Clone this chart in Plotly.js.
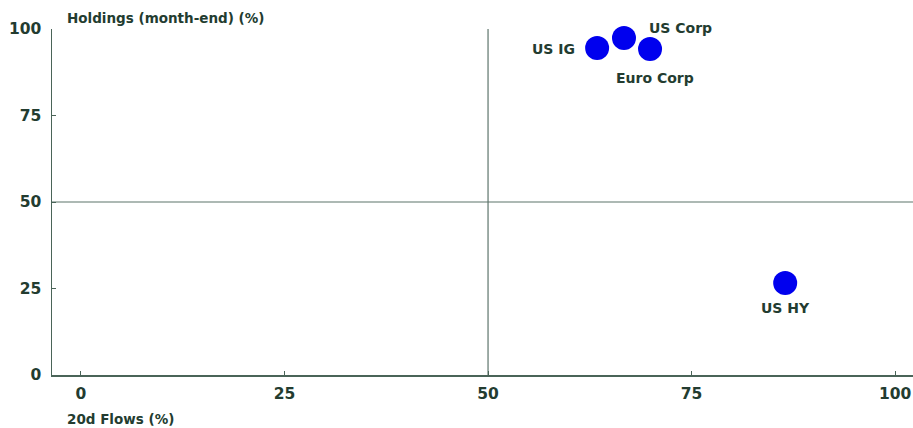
<!DOCTYPE html>
<html>
<head>
<meta charset="utf-8">
<script src="https://cdn.plot.ly/plotly-3.0.1.min.js"></script>
<style>html,body{margin:0;padding:0;background:#fff;}#chart{width:913px;height:428px;}</style>
</head>
<body>
<div id="chart"></div>
<script>
const names = ["US IG", "US Corp", "Euro Corp", "US HY"];
const flows = [63.4, 66.7, 69.9, 86.5];
const holdings = [94.5, 97.4, 94.2, 26.6];
const xTicks = [0, 25, 50, 75, 100];
const yTicks = [0, 25, 50, 75, 100];

const textColor = "#233c30";
const axisColor = "#4a6458";
const guideColor = "#5d756b";
const fontFam = "'DejaVu Sans', sans-serif";

// label placement (style only)
const labelStyle = [
  {xanchor: "right", xshift: -20, yshift: -1},
  {xanchor: "left", xshift: 23, yshift: 10},
  {xanchor: "center", xshift: 5, yshift: -29},
  {xanchor: "center", xshift: 0, yshift: -25}
];

const trace = {
  type: "scatter",
  mode: "markers",
  x: flows,
  y: holdings,
  marker: {size: 24, color: "#0000ee", line: {width: 0}},
  cliponaxis: false,
  hoverinfo: "skip"
};

const labelAnns = names.map((n, i) => Object.assign({
  x: flows[i], y: holdings[i], xref: "x", yref: "y", text: n, showarrow: false,
  yanchor: "middle",
  font: {family: fontFam, size: 14, color: textColor, weight: 700}
}, labelStyle[i]));

const layout = {
  width: 913, height: 428,
  margin: {l: 52, r: 0, t: 29, b: 53},
  paper_bgcolor: "#fff", plot_bgcolor: "#fff",
  showlegend: false,
  font: {family: fontFam, color: textColor, size: 14, weight: 700},
  xaxis: {
    range: [-3.56, 102.2],
    tickvals: xTicks,
    ticks: "inside", ticklen: 4, tickcolor: axisColor, tickwidth: 1,
    showline: true, linecolor: axisColor, linewidth: 1.5,
    showgrid: false, zeroline: false,
    tickfont: {family: fontFam, size: 15.5, color: textColor, weight: 700},
    ticklabelstandoff: 4
  },
  yaxis: {
    range: [0, 100],
    tickvals: yTicks,
    ticks: "inside", ticklen: 4, tickcolor: axisColor, tickwidth: 1,
    showline: true, linecolor: axisColor, linewidth: 1.5,
    showgrid: false, zeroline: false,
    tickfont: {family: fontFam, size: 15.5, color: textColor, weight: 700},
    ticklabelstandoff: 6
  },
  shapes: [
    {type: "line", xref: "x", yref: "paper", x0: 50, x1: 50, y0: 0, y1: 1, line: {color: guideColor, width: 1.2}, layer: "below"},
    {type: "line", xref: "paper", yref: "y", x0: 0, x1: 1, y0: 50, y1: 50, line: {color: guideColor, width: 1.2}, layer: "below"}
  ],
  annotations: [
    {text: "Holdings (month-end) (%)", xref: "paper", yref: "paper", x: 0.0155, y: 1, yshift: 11, xanchor: "left", yanchor: "middle", showarrow: false, font: {family: fontFam, size: 13.5, color: textColor, weight: 700}},
    {text: "20d Flows (%)", xref: "paper", yref: "paper", x: 0.0155, y: 0, yshift: -44, xanchor: "left", yanchor: "middle", showarrow: false, font: {family: fontFam, size: 13.5, color: textColor, weight: 700}}
  ].concat(labelAnns)
};

Plotly.newPlot("chart", [trace], layout, {displayModeBar: false, staticPlot: true});
</script>
</body>
</html>
